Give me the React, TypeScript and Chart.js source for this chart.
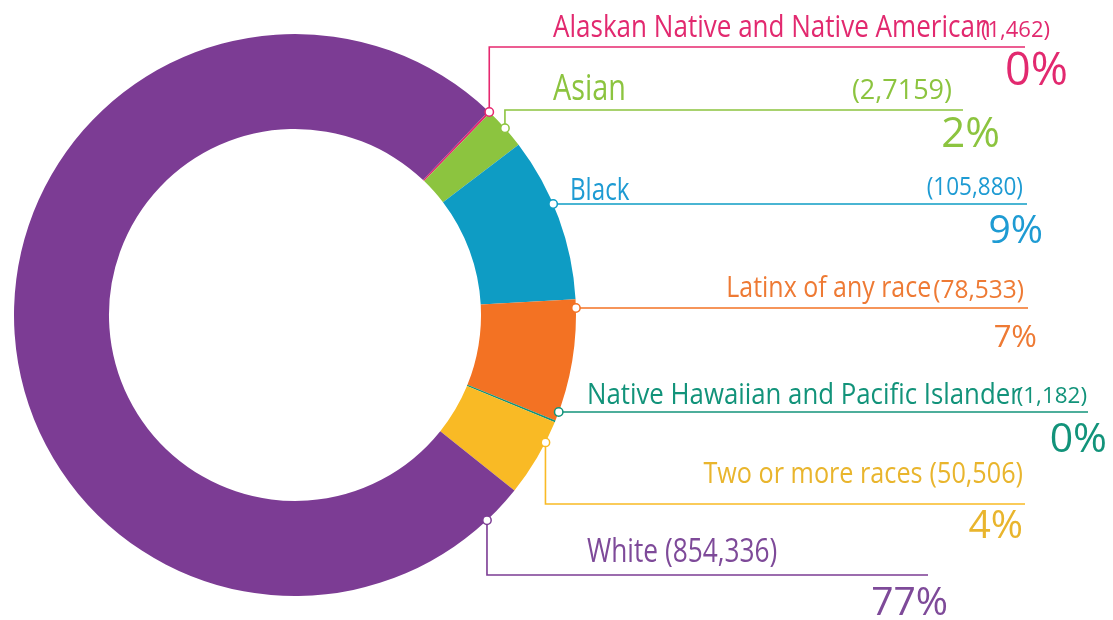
import React, { useEffect, useRef } from 'react';
import { Chart, registerables } from 'chart.js';

Chart.register(...registerables);

// ---------- DATA ----------
const categories = [
  'Alaskan Native and Native American',
  'Asian',
  'Black',
  'Latinx of any race',
  'Native Hawaiian and Pacific Islander',
  'Two or more races',
  'White',
];
const populations = [1462, 27159, 105880, 78533, 1182, 50506, 854336];
const countLabels = ['(1,462)', '(2,7159)', '(105,880)', '(78,533)', '(1,182)', '(50,506)', '(854,336)'];
const percentLabels = ['0%', '2%', '9%', '7%', '0%', '4%', '77%'];

// ---------- STYLE ----------
const sliceColors = ['#E6286F', '#8CC43F', '#0E9CC4', '#F37223', '#12937A', '#F9BA25', '#7C3C94'];
const textColors = ['#E2296F', '#8CC43F', '#1E9BD3', '#EE7A34', '#12937A', '#E9B52D', '#7E4A99'];

const FONT = '"Open Sans", "Noto Sans", sans-serif';
const WEIGHT = '400';

// Label layout (positions only)
const LAYOUT = [
  { lineY: 47, anchor: 'v', frac: 0.5, lineEnd: 1025, mode: 'split', nx: 553, ny: 37, ns: 31, nsx: 0.84, cx: 1050, cy: 37, cs: 22, csx: 1.0, px: 1068, py: 85, ps: 45 },
  { lineY: 110, anchor: 'v', frac: 0.5, lineEnd: 963, mode: 'split', nx: 553, ny: 100, ns: 36, nsx: 0.8, cx: 952, cy: 99, cs: 27, csx: 1.0, px: 1000, py: 147, ps: 42 },
  { lineY: 204, anchor: 'h', lineEnd: 1027, mode: 'split', nx: 570, ny: 200, ns: 31, nsx: 0.78, cx: 1023, cy: 195, cs: 25, csx: 0.9, px: 1043, py: 243, ps: 39 },
  { lineY: 308, anchor: 'h', lineEnd: 1028, mode: 'right', ny: 297, ns: 29, nsx: 0.86, cx: 1024, cy: 298, cs: 25, csx: 0.98, gap: 2, px: 1037, py: 347, ps: 31 },
  { lineY: 412, anchor: 'h', lineEnd: 1088, mode: 'split', nx: 587, ny: 404, ns: 30, nsx: 0.86, cx: 1087, cy: 403, cs: 22, csx: 1.02, px: 1107, py: 452, ps: 41 },
  { lineY: 504, anchor: 'v', frac: 0.28, lineEnd: 1025, mode: 'right', ny: 483, ns: 30, nsx: 0.84, cx: 1023, cy: 483, cs: 30, csx: 0.84, gap: 7, px: 1023, py: 538, ps: 39 },
  { lineY: 575, anchor: 'v', frac: 0.03, lineEnd: 928, mode: 'left', nx: 587, ny: 562, ns: 32, nsx: 0.82, cy: 562, cs: 32, csx: 0.82, gap: 7, px: 948, py: 615, ps: 39 },
];

function textWidth(ctx: CanvasRenderingContext2D, s: string, size: number, sx: number) {
  ctx.font = `${WEIGHT} ${size}px ${FONT}`;
  return ctx.measureText(s).width * sx;
}

function drawText(ctx: CanvasRenderingContext2D, s: string, left: number, y: number, size: number, color: string, sx: number) {
  ctx.save();
  ctx.font = `${WEIGHT} ${size}px ${FONT}`;
  ctx.fillStyle = color;
  ctx.textAlign = 'left';
  ctx.textBaseline = 'alphabetic';
  ctx.translate(left, y);
  ctx.scale(sx, 1);
  ctx.fillText(s, 0, 0);
  ctx.restore();
}

const labelPlugin = {
  id: 'leaderLabels',
  afterDatasetsDraw(chart: any) {
    const ctx: CanvasRenderingContext2D = chart.ctx;
    const meta = chart.getDatasetMeta(0);
    meta.data.forEach((arc: any, i: number) => {
      const L: any = LAYOUT[i];
      if (!L) return;
      const p = arc.getProps(['x', 'y', 'startAngle', 'endAngle', 'outerRadius'], true);
      const R = p.outerRadius;
      let dx: number, dy: number;
      if (L.anchor === 'h') {
        const s = Math.max(-1, Math.min(1, (L.lineY - p.y) / R));
        const a = Math.asin(s);
        dx = p.x + R * Math.cos(a);
        dy = L.lineY;
      } else {
        const a = p.startAngle + (p.endAngle - p.startAngle) * L.frac;
        dx = p.x + R * Math.cos(a);
        dy = p.y + R * Math.sin(a);
      }
      const col = textColors[i];
      // leader line
      ctx.save();
      ctx.strokeStyle = sliceColors[i];
      ctx.lineWidth = 1.6;
      ctx.beginPath();
      ctx.moveTo(dx, dy);
      if (L.anchor === 'v') {
        ctx.lineTo(dx, L.lineY);
      }
      ctx.lineTo(L.lineEnd, L.lineY);
      ctx.stroke();
      // dot
      ctx.beginPath();
      ctx.arc(dx, dy, 4.2, 0, Math.PI * 2);
      ctx.fillStyle = '#ffffff';
      ctx.fill();
      ctx.lineWidth = 1.5;
      ctx.stroke();
      ctx.restore();

      // texts
      const name = categories[i];
      const cnt = countLabels[i];
      if (L.mode === 'split') {
        drawText(ctx, name, L.nx, L.ny, L.ns, col, L.nsx);
        const cw = textWidth(ctx, cnt, L.cs, L.csx);
        drawText(ctx, cnt, L.cx - cw, L.cy, L.cs, col, L.csx);
      } else if (L.mode === 'right') {
        const cw = textWidth(ctx, cnt, L.cs, L.csx);
        const cl = L.cx - cw;
        drawText(ctx, cnt, cl, L.cy, L.cs, col, L.csx);
        const nw = textWidth(ctx, name, L.ns, L.nsx);
        drawText(ctx, name, cl - L.gap - nw, L.ny, L.ns, col, L.nsx);
      } else {
        const nw = textWidth(ctx, name, L.ns, L.nsx);
        drawText(ctx, name, L.nx, L.ny, L.ns, col, L.nsx);
        drawText(ctx, cnt, L.nx + nw + L.gap, L.cy, L.cs, col, L.csx);
      }
      const pct = percentLabels[i];
      const pw = textWidth(ctx, pct, L.ps, 1);
      drawText(ctx, pct, L.px - pw, L.py, L.ps, col, 1);
    });
  },
};

export default function App() {
  const ref = useRef<HTMLCanvasElement | null>(null);
  useEffect(() => {
    if (!ref.current) return;
    const chart = new Chart(ref.current, {
      type: 'doughnut',
      data: {
        labels: categories,
        datasets: [
          {
            data: populations,
            backgroundColor: sliceColors,
            borderWidth: 0,
          },
        ],
      },
      options: {
        responsive: false,
        animation: false,
        rotation: 43.5,
        cutout: '66.2%',
        layout: { padding: { left: 14, top: 34, right: 537, bottom: 24 } },
        plugins: {
          legend: { display: false },
          tooltip: { enabled: false },
        },
      },
      plugins: [labelPlugin],
    });
    return () => chart.destroy();
  }, []);
  return (
    <div style={{ position: 'absolute', left: 0, top: 0, width: 1113, height: 620, background: '#ffffff' }}>
      <canvas ref={ref} width={1113} height={620} />
    </div>
  );
}
